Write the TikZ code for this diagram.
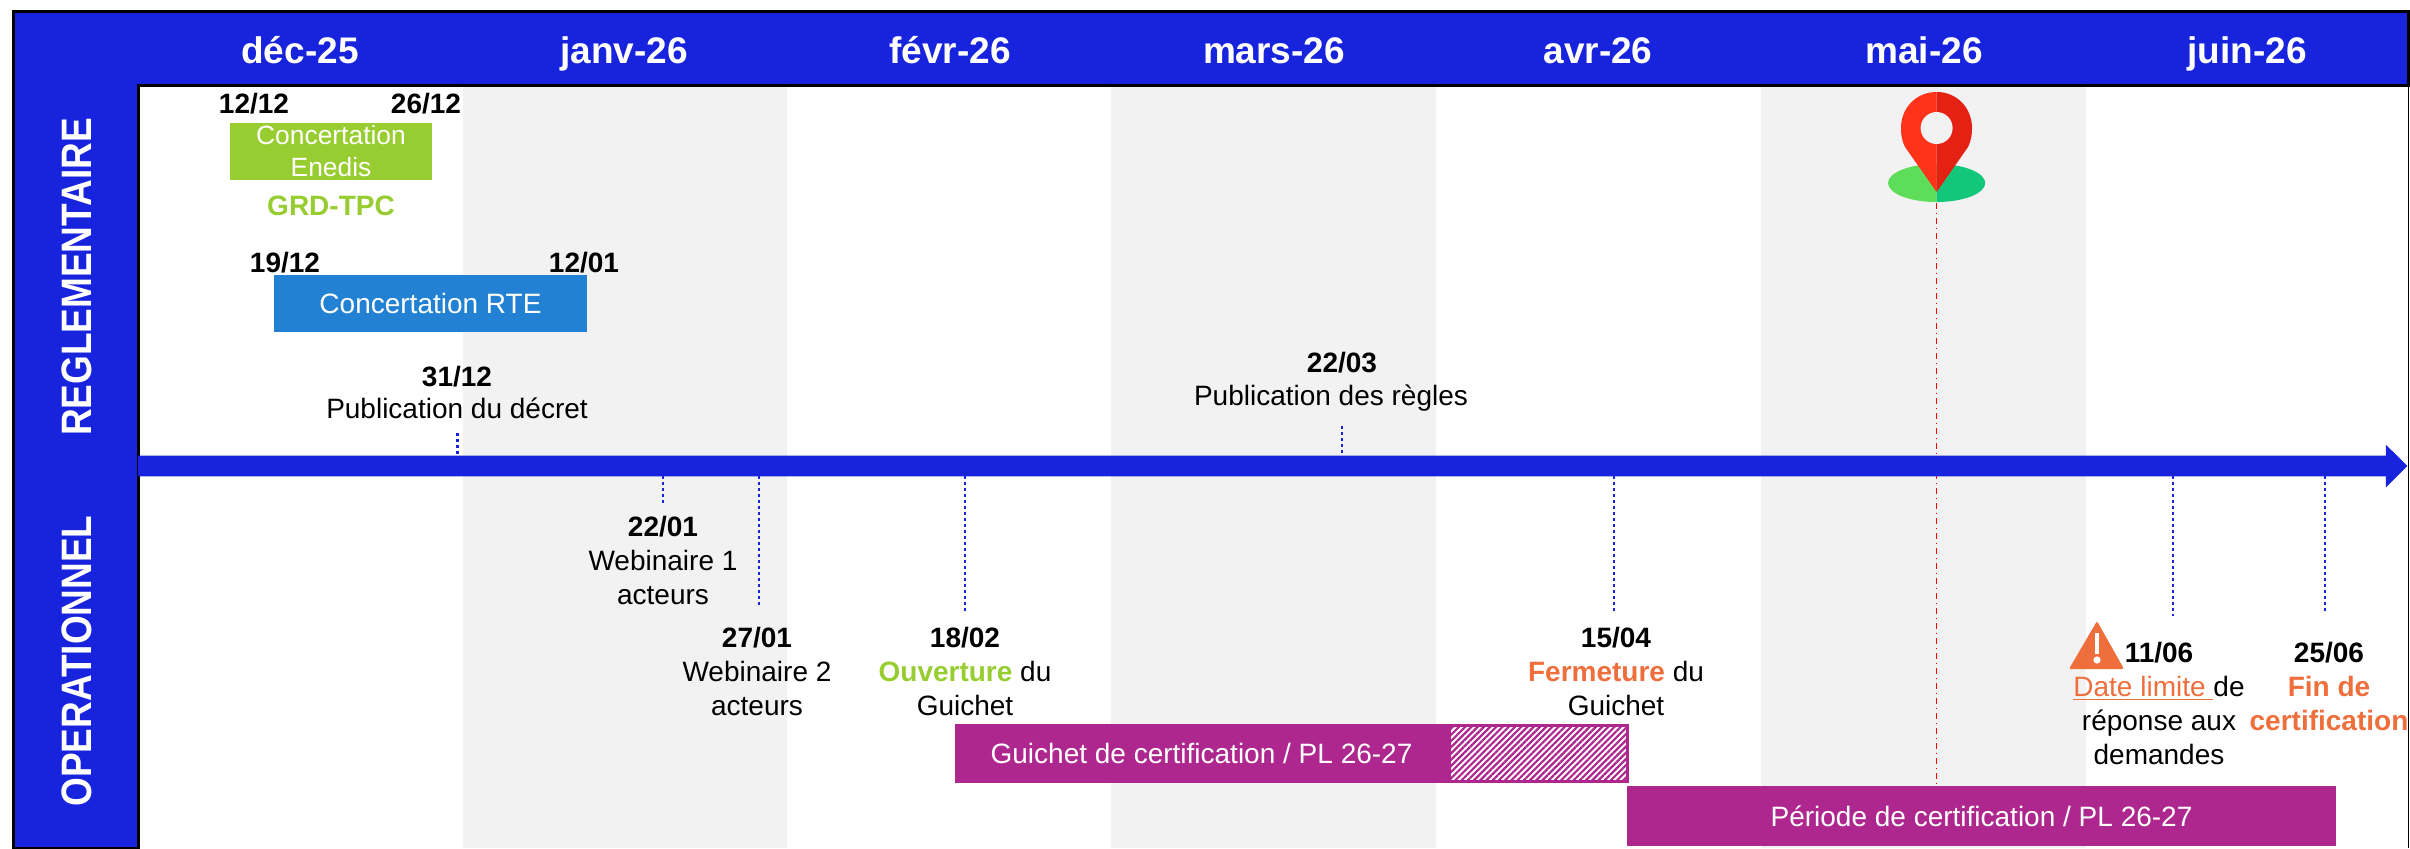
\documentclass[tikz,border=0pt]{standalone}
\usepackage{fontspec}
\setmainfont{Liberation Sans}
\usepackage{tikz}
\usetikzlibrary{shapes.arrows, patterns.meta}
\definecolor{mainblue}{HTML}{1723DC}
\definecolor{rteblue}{HTML}{2281D3}
\definecolor{enedisgreen}{HTML}{97CD30}
\definecolor{bandgrey}{HTML}{F2F2F2}
\definecolor{barpurple}{HTML}{AE278E}
\definecolor{alertorange}{HTML}{EF6F3C}
\definecolor{pinleft}{HTML}{FF3319}
\definecolor{pinright}{HTML}{E52113}
\definecolor{padleft}{HTML}{5EDD5A}
\definecolor{padright}{HTML}{12C67A}
\tikzset{
    month/.style={text=white, font=\fontsize{18.5}{22}\selectfont\bfseries, inner sep=0},
    side/.style={month, rotate=90, yscale=1.15},
    txt/.style={font=\fontsize{14}{17}\selectfont, align=center, inner sep=0},
    day/.style={txt, font=\fontsize{14}{17}\selectfont\bfseries},
    bar/.style={txt, text=white, inner sep=0, minimum height=#1},
    bar/.default=29.5pt,
    tickline/.style={mainblue, line width=1.3pt, dash pattern=on 1.5pt off 1.5pt},
}
\begin{document}
\begin{tikzpicture}[x=0.5pt, y=-0.5pt]
    \useasboundingbox (0,0) rectangle (2410,848);

    \foreach \xa/\xb in {463/787, 1111/1436, 1761/2086}
        \fill[bandgrey] (\xa,85) rectangle (\xb,848);

    \draw[black, line width=0.5pt] (2408,85) -- (2408,848);
    \draw[black, line width=1.5pt, fill=mainblue]
        (13,11) -- (2408,11) -- (2408,85) -- (138,85) -- (138,848) -- (13,848) -- cycle;

    \foreach \name/\cx/\label in {dec/300/déc-25, jan/624/janv-26, feb/950/févr-26, mar/1274/mars-26,
        apr/1598/avr-26, may/1924/mai-26, jun/2247/juin-26}
        \node[month, anchor=base] (\name) at (\cx,63) {\label};

    \node[side] (regl) at (77,277) {REGLEMENTAIRE};
    \node[side] (oper) at (77,661) {OPERATIONNEL};

    \coordinate (redtop) at (1936.6,203);
    \coordinate (redend) at (1936.6,785);
    \draw[red, line width=0.5pt, dash dot] (redtop) -- (redend);

    \fill[padleft] (1936.6,164) arc (90:270:24.3pt and 9.5pt) -- cycle;
    \fill[padright] (1936.6,164) arc (90:-90:24.3pt and 9.5pt) -- cycle;
    \fill[pinleft] (1936.6,192) -- (1905,147) .. controls (1902,141) and (1901,135) .. (1901,128)
        .. controls (1901,108) and (1916,92) .. (1936.6,92) -- cycle;
    \fill[pinright] (1936.6,192) -- (1968,147) .. controls (1971,141) and (1972,135) .. (1972,128)
        .. controls (1972,108) and (1957,92) .. (1936.6,92) -- cycle;
    \fill[bandgrey] (1936.6,128) circle (8pt);

    \foreach \name/\xx/\ya/\yb in {a/457.6/433/456, b/1342/426/456, c/663/476/503, d/759/476/607,
        e/965/476/613, f/1614/476/613, g/2173/476/616, h/2325/476/614} {
        \coordinate (\name up) at (\xx,\ya);
        \coordinate (\name down) at (\xx,\yb);
        \draw[tickline] (\name up) -- (\name down);
    }

    \node[single arrow, fill=mainblue, inner xsep=0pt, inner ysep=5pt, outer sep=0pt,
        minimum width=21pt, minimum height=1134.5pt,
        single arrow head extend=5.5pt, single arrow head indent=0pt, anchor=west] (axis) at (138,466) {};

    \node[bar=28.5pt, fill=enedisgreen, minimum width=101pt, font=\fontsize{13.2}{17}\selectfont] (enedis) at (331,151.5) {Concertation\\[-1pt]Enedis};
    \node[bar=28.5pt, fill=rteblue, minimum width=156.5pt] (rte) at (430.5,303.5) {Concertation RTE};
    \node[bar, fill=barpurple, minimum width=247pt] (guichet) at (1201.5,753.5) {Guichet de certification / PL 26-27};
    \node[bar=28.2pt, draw=barpurple, line width=1.3pt, preaction={fill=white},
        pattern={Lines[angle=45, distance=2.2pt, line width=1.1pt]}, pattern color=barpurple,
        minimum width=89.2pt] (hatch) at (1538.5,753.5) {};
    \node[bar=30pt, fill=barpurple, minimum width=354.5pt] (periode) at (1981.5,816) {Période de certification / PL 26-27};

    \node[day] (d1212) at (254,104) {12/12};
    \node[day] (d2612) at (426,104) {26/12};
    \node[day, text=enedisgreen] (grd) at (331,206) {GRD-TPC};
    \node[day] (d1912) at (285,263) {19/12};
    \node[day] (d1201) at (584,263) {12/01};

    \node[txt] (decret) at (457,392) {\textbf{31/12}\\[-1pt]Publication du décret};
    \node[day] (d2203) at (1342,363) {22/03};
    \node[txt] (regles) at (1331,398) {Publication des règles};
    \node[txt] (web1) at (663,560) {\textbf{22/01}\\Webinaire 1\\acteurs};
    \node[txt] (web2) at (757,671) {\textbf{27/01}\\Webinaire 2\\acteurs};
    \node[txt] (open) at (965,671) {\textbf{18/02}\\\textcolor{enedisgreen}{\textbf{Ouverture}} du\\Guichet};
    \node[txt] (close) at (1616,671) {\textbf{15/04}\\\textcolor{alertorange}{\textbf{Fermeture}} du\\Guichet};
    \node[txt] (limit) at (2159,703) {\textbf{11/06}\\\textcolor{alertorange}{\underline{Date limite\ }}de\\réponse aux\\demandes};
    \node[txt] (fin) at (2329,686) {\textbf{25/06}\\\textcolor{alertorange}{\textbf{Fin de}}\\\textcolor{alertorange}{\textbf{certification}}};

    \fill[alertorange, rounded corners=1pt] (2069,669) -- (2097,621) -- (2124,669) -- cycle;
    \draw[white, line width=2pt] (2097,633) -- (2097,654);
    \fill[white] (2097,660) circle (1.8pt);
\end{tikzpicture}
\end{document}
